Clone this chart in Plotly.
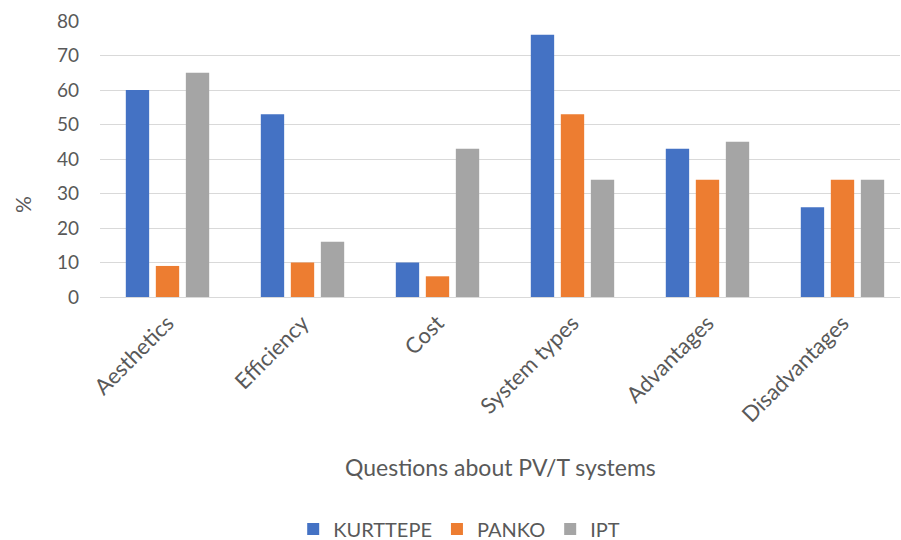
import plotly.graph_objects as go

categories = ["Aesthetics", "Efficiency", "Cost", "System types", "Advantages", "Disadvantages"]
kurttepe = [60, 53, 10, 76, 43, 26]
panko = [9, 10, 6, 53, 34, 34]
ipt = [65, 16, 43, 34, 45, 34]
series_names = ["KURTTEPE", "PANKO", "IPT"]
colors = ["#4472C4", "#ED7D31", "#A5A5A5"]

FONT = "Lato, 'Open Sans', sans-serif"
fig = go.Figure()
for name, vals, c in zip(series_names, [kurttepe, panko, ipt], colors):
    fig.add_trace(go.Bar(name=name, x=categories, y=vals, marker=dict(color=c, line=dict(width=0))))

fig.update_layout(
    width=901, height=540,
    paper_bgcolor="white", plot_bgcolor="white",
    barmode="group", bargap=0.333, bargroupgap=0.222,
    margin=dict(l=100, r=1, t=21, b=243, autoexpand=False),
    font=dict(family=FONT, color="#595959", size=16),
    showlegend=True,
    legend=dict(orientation="h", x=0.449, xanchor="center", y=-0.841, yanchor="middle",
                font=dict(size=20, color="#595959"), traceorder="normal",
                itemwidth=30),
    annotations=[
        dict(text="Questions about PV/T systems", xref="paper", yref="paper",
             x=0.5, y=-0.616, xanchor="center", yanchor="middle", showarrow=False,
             font=dict(size=23, color="#595959")),
        dict(text="%", xref="paper", yref="paper", textangle=-90,
             x=-0.0975, y=0.333, xanchor="center", yanchor="middle", showarrow=False,
             font=dict(size=21, color="#595959")),
    ],
)
fig.update_xaxes(tickangle=-45, showgrid=False, showline=False, ticks="",
                 range=[-0.5, 5.426], ticklabelstandoff=8,
                 tickfont=dict(size=22, color="#595959"), automargin=False)
fig.update_yaxes(range=[0, 80], dtick=10, showgrid=True, gridcolor="#D9D9D9", gridwidth=1,
                 zeroline=True, zerolinecolor="#D9D9D9", zerolinewidth=1,
                 showline=False, ticks="", tickfont=dict(size=19, color="#595959"),
                 ticklabelstandoff=20, automargin=False)

fig.write_html("out.html", config={"displayModeBar": False},
               post_script="document.body.style.margin='0';")
